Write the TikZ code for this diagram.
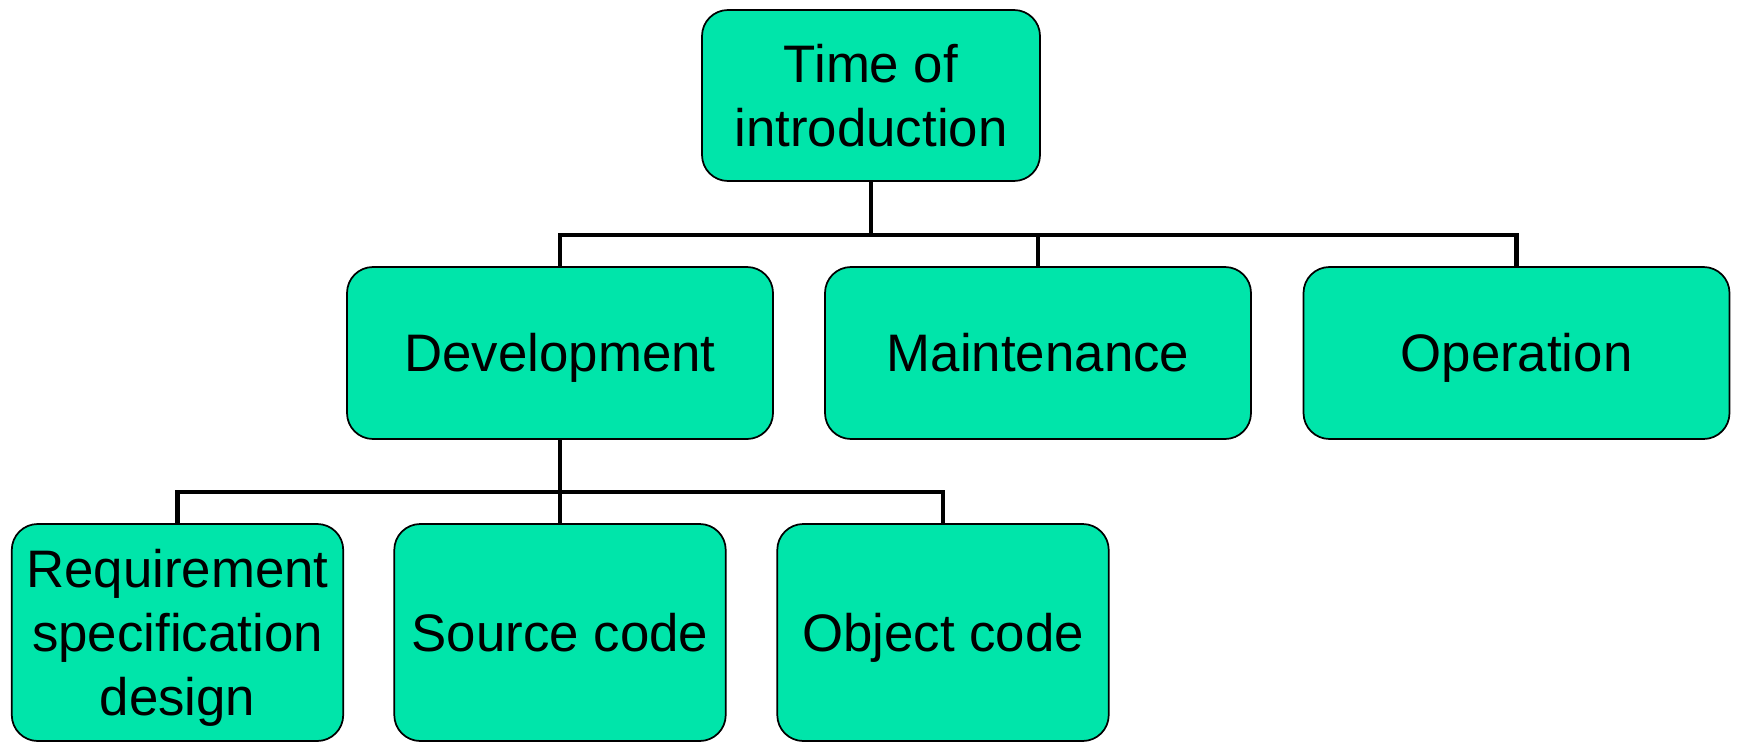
\documentclass[tikz,border=0pt]{standalone}
\usepackage{fontspec}
\setmainfont{Liberation Sans}
\definecolor{boxfill}{RGB}{0,229,170}
\begin{document}
\begin{tikzpicture}[x=0.75pt,y=-0.75pt,
  box/.style={draw=black,line width=1.3pt,fill=boxfill,rounded corners=19.5pt,
    inner sep=0pt,outer sep=0pt,align=center,text depth=0pt,
    font=\fontsize{39.6}{48}\selectfont},
  oneline/.style={text height=28.4pt},
  lvlone/.style={box,minimum width=253.5pt,minimum height=128.25pt},
  lvltwo/.style={box,oneline,minimum width=319.5pt,minimum height=129pt},
  lvlthree/.style={box,minimum width=248.6pt,minimum height=162.75pt},
  conn/.style={draw=black,line width=3.6pt}]
\useasboundingbox (0,0) rectangle (1737,742);
\node[lvlone] (top) at (871,95.5) {Time of\\introduction};
\node[lvltwo] (dev) at (560,353) {Development};
\node[lvltwo] (mnt) at (1038,353) {Maintenance};
\node[lvltwo] (opr) at (1516.5,353) {Operation};
\node[lvlthree] (req) at (177.5,632.5) {Requirement\\specification\\design};
\node[lvlthree,oneline] (src) at (560,632.5) {Source code};
\node[lvlthree,oneline] (obj) at (943,632.5) {Object code};
\coordinate (j1) at (871,235);
\coordinate (j2) at (560,492);
\draw[conn] (top.south) -- (j1);
\draw[conn] (j1) -| (dev.north);
\draw[conn] (j1) -| (mnt.north);
\draw[conn] (j1) -| (opr.north);
\draw[conn] (dev.south) -- (src.north);
\draw[conn] (j2) -| (req.north);
\draw[conn] (j2) -| (obj.north);
\end{tikzpicture}
\end{document}
